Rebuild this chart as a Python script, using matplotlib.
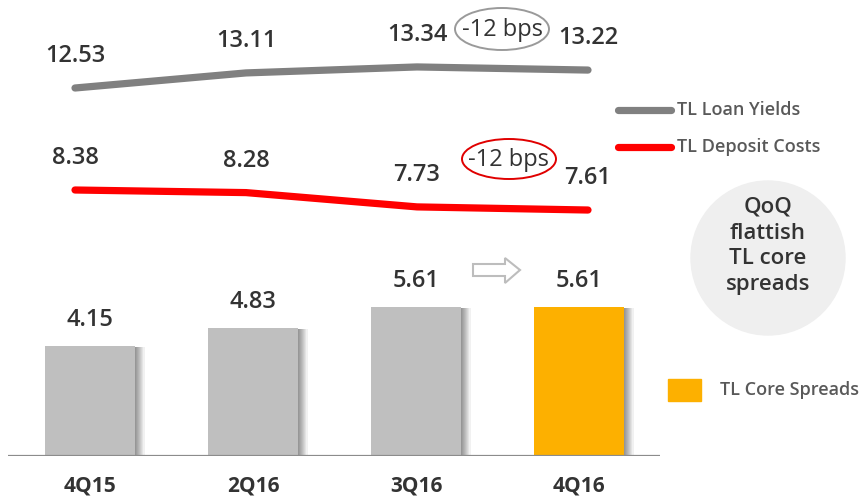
import matplotlib
matplotlib.use("Agg")
import matplotlib.pyplot as plt
import matplotlib.patheffects as pe
from matplotlib.patches import Ellipse, Polygon, Rectangle
import numpy as np

quarters = ['4Q15', '2Q16', '3Q16', '4Q16']
loan_yields = [12.53, 13.11, 13.34, 13.22]
deposit_costs = [8.38, 8.28, 7.73, 7.61]
core_spreads = [4.15, 4.83, 5.61, 5.61]
bar_colors = ['#bfbfbf', '#bfbfbf', '#bfbfbf', '#fdb000']

W, H = 865, 496
plt.rcParams['font.family'] = ['Open Sans', 'DejaVu Sans']
TXT = '#333333'
LEG = '#595959'

fig = plt.figure(figsize=(W / 100, H / 100), dpi=100)


def px_rect(l, t, r, b):
    return [l / W, 1 - b / H, (r - l) / W, (b - t) / H]


def fx(x):
    return x / W


def fy(y):
    return 1 - y / H


def clean(ax):
    ax.set_facecolor('none')
    for s in ax.spines.values():
        s.set_visible(False)
    ax.set_xticks([])
    ax.set_yticks([])


# --- bars: TL core spreads
ax_bar = fig.add_axes(px_rect(8, 240, 660, 456))
clean(ax_bar)
x = np.arange(len(quarters))
# layered offsets give a soft drop shadow on the right
shadow = [pe.SimplePatchShadow(offset=(d, -0.5), shadow_rgbFace='black', alpha=0.055)
          for d in np.arange(7.0, 0.0, -0.75)] + [pe.Normal()]
bars = ax_bar.bar(x, core_spreads, width=0.55, color=bar_colors, zorder=3)
for b in bars:
    b.set_path_effects(shadow)
ax_bar.set_xlim(-0.503, 3.497)
ax_bar.set_ylim(0, 8.15)
ax_bar.axhline(0, color='#8c8c8c', lw=1.6, zorder=4)
ax_bar.set_xticks(x, quarters, fontsize=15, fontweight='bold', color=TXT)
ax_bar.tick_params(axis='x', length=0, pad=14)
for i, v in enumerate(core_spreads):
    ax_bar.annotate(f'{v:.2f}', (i, v), xytext=(0, 19), textcoords='offset points',
                    ha='center', va='center', fontsize=17, fontweight='semibold', color=TXT)


# --- lines: loan yields and deposit costs
def line_axes(top, bottom, values, anchor_px, color):
    ax = fig.add_axes(px_rect(75, top, 588, bottom))
    clean(ax)
    s = 26.0
    v0 = values[0]
    ax.set_xlim(0, 3)
    ax.set_ylim(v0 - (bottom - anchor_px) / s, v0 + (anchor_px - top) / s)
    ax.plot(x, values, color=color, lw=5.2, solid_capstyle='round', clip_on=False)
    for i, v in enumerate(values):
        ax.annotate(f'{v:.2f}', (i, v), xytext=(0, 23), textcoords='offset points',
                    ha='center', va='center', fontsize=17, fontweight='semibold', color=TXT)
    return ax


line_axes(50, 100, loan_yields, 88, '#808080')
line_axes(150, 215, deposit_costs, 190, '#ff0000')

# "-12 bps" callouts
fig.text(fx(502), fy(30), '-12 bps', ha='center', va='center', fontsize=17, color=TXT)
fig.add_artist(Ellipse((fx(502), fy(29)), 94 / W, 42 / H, transform=fig.transFigure,
                       fill=False, ec='#9a9a9a', lw=1.4))
fig.text(fx(509), fy(160), '-12 bps', ha='center', va='center', fontsize=17, color=TXT)
fig.add_artist(Ellipse((fx(509), fy(159)), 94 / W, 40 / H, transform=fig.transFigure,
                       fill=False, ec='#e00000', lw=1.4))

# legend for lines
for yy, col, lab in [(110, '#808080', 'TL Loan Yields'), (147, '#ff0000', 'TL Deposit Costs')]:
    fig.add_artist(plt.Line2D([fx(618), fx(671)], [fy(yy), fy(yy)], color=col, lw=5.2,
                              solid_capstyle='round', transform=fig.transFigure))
    fig.text(fx(677), fy(yy), lab, ha='left', va='center', fontsize=13,
             fontweight='semibold', color=LEG)

# legend for bars
fig.add_artist(Rectangle((fx(668), fy(401)), 33 / W, 22 / H, transform=fig.transFigure,
                         color='#fdb000'))
fig.text(fx(720), fy(390), 'TL Core Spreads', ha='left', va='center', fontsize=13,
         fontweight='semibold', color=LEG)

# grey bubble
fig.add_artist(Ellipse((fx(768), fy(258)), 154 / W, 154 / H, transform=fig.transFigure,
                       color='#efefef', zorder=0))
fig.text(fx(768), fy(246), 'QoQ\nflattish\nTL core\nspreads', ha='center', va='center',
         fontsize=16, fontweight='semibold', color=TXT, linespacing=1.3)

# hollow arrow
pts = [(473, 264), (505, 264), (505, 258), (520, 270), (505, 283), (505, 276), (473, 276)]
fig.add_artist(Polygon([(fx(a), fy(b)) for a, b in pts], closed=True, transform=fig.transFigure,
                       fc='white', ec='#bdbdbd', lw=1.5))

fig.savefig('out.png', dpi=100)
